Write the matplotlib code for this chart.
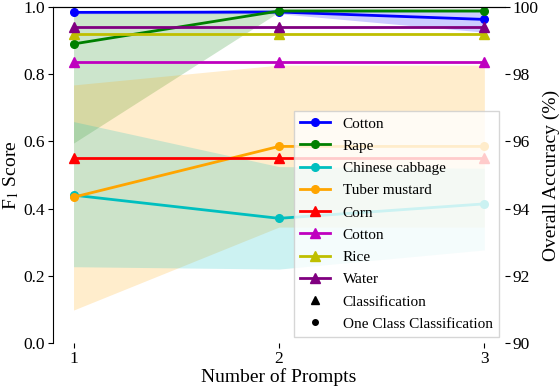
import numpy as np
import matplotlib
matplotlib.use('Agg')
import matplotlib.pyplot as plt
from matplotlib.lines import Line2D

plt.rcParams['font.family'] = ['Liberation Serif', 'DejaVu Serif']
plt.rcParams['mathtext.fontset'] = 'stix'

prompts = [1, 2, 3]

# One class classification (F1)
occ_names = ['Cotton', 'Rape', 'Chinese cabbage', 'Tuber mustard']
occ_colors = ['b', 'g', 'c', 'orange']
occ_f1 = [
    [0.984, 0.985, 0.963],
    [0.890, 0.988, 0.988],
    [0.440, 0.371, 0.414],
    [0.434, 0.585, 0.585],
]
occ_lo = [
    [0.980, 0.980, 0.925],
    [0.595, 0.985, 0.985],
    [0.227, 0.220, 0.277],
    [0.098, 0.345, 0.345],
]
occ_hi = [
    [0.988, 0.990, 0.992],
    [0.980, 0.995, 0.995],
    [0.659, 0.525, 0.520],
    [0.768, 0.827, 0.827],
]

# Classification (F1)
cls_names = ['Corn', 'Cotton', 'Rice', 'Water']
cls_colors = ['r', 'm', 'y', 'purple']
cls_f1 = [
    [0.551, 0.551, 0.551],
    [0.835, 0.835, 0.835],
    [0.919, 0.919, 0.919],
    [0.940, 0.940, 0.940],
]

fig = plt.figure(figsize=(5.6, 3.88), dpi=100)
ax = fig.add_axes([0.0946, 0.116, 0.807, 0.866])

fill_order = [1, 3, 2, 0]
for i in fill_order:
    ax.fill_between(prompts, occ_lo[i], occ_hi[i], color=occ_colors[i],
                    alpha=0.2, linewidth=0)

for name, c, v in zip(occ_names, occ_colors, occ_f1):
    ax.plot(prompts, v, color=c, marker='o', linewidth=2, markersize=5.5, label=name)
for name, c, v in zip(cls_names, cls_colors, cls_f1):
    ax.plot(prompts, v, color=c, marker='^', linewidth=2, markersize=7.5, label=name)

ax.set_xlim(0.9, 3.1)
ax.set_ylim(0, 1.0)
ax.set_xticks(prompts)
ax.set_yticks([0.0, 0.2, 0.4, 0.6, 0.8, 1.0])
ax.set_xlabel('Number of Prompts', fontsize=14, labelpad=1)
ax.set_ylabel('F$_1$ Score', fontsize=14, labelpad=2)
ax.tick_params(labelsize=12.5, pad=2)
ax.spines['right'].set_visible(False)
ax.spines['bottom'].set_visible(False)

ax2 = ax.twinx()
ax2.set_ylim(90, 100)
ax2.set_yticks([90, 92, 94, 96, 98, 100])
ax2.set_ylabel('Overall Accuracy (%)', fontsize=14, labelpad=3)
ax2.tick_params(labelsize=12.5, pad=2)
for s in ['right', 'bottom', 'left']:
    ax2.spines[s].set_visible(False)

handles, labels = ax.get_legend_handles_labels()
handles += [Line2D([], [], color='k', marker='^', linestyle='none', markersize=6),
            Line2D([], [], color='k', marker='o', linestyle='none', markersize=4)]
labels += ['Classification', 'One Class Classification']
leg = ax2.legend(handles, labels, loc='lower right', fontsize=11,
                 framealpha=0.8, fancybox=False, handlelength=2.0,
                 labelspacing=0.56, borderaxespad=0.4)
leg.get_frame().set_edgecolor('#cccccc')

fig.savefig('out.png', dpi=100)
